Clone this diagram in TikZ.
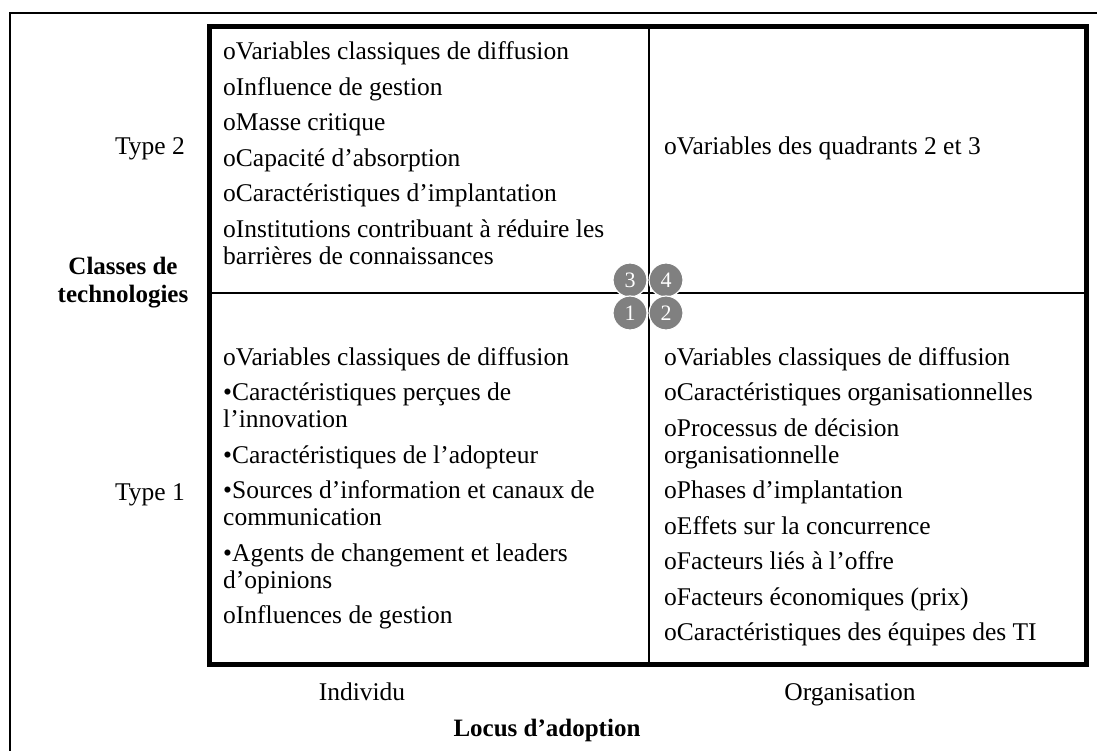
\documentclass[tikz,border=0pt]{standalone}
\usepackage{fontspec}
\setmainfont{Liberation Serif}
\definecolor{qgray}{HTML}{808080}
\begin{document}
\begin{tikzpicture}[x=1pt,y=-1pt,
  txt/.style={anchor=base west, inner sep=0pt, font=\fontsize{25.5}{29}\selectfont},
  rlab/.style={anchor=base east, inner sep=0pt, font=\fontsize{25.5}{29}\selectfont},
  clab/.style={anchor=base, inner sep=0pt, font=\fontsize{25.5}{29}\selectfont},
  blab/.style={anchor=base, inner sep=0pt, font=\fontsize{25}{29}\selectfont\bfseries},
  num/.style={circle, fill=qgray, draw=white, line width=1.2pt, minimum size=34pt, inner sep=0pt, text=white, font=\fontsize{22}{22}\selectfont}]
\useasboundingbox (0,0) rectangle (1097,751);
% outer frame (cropped at right and bottom)
\draw[line width=1.8pt] (10,760) -- (10,13) -- (1105,13);
% dividers
\draw[line width=2pt] (649,27) -- (649,664);
\draw[line width=2pt] (209,293) -- (1086,293);
% inner thick box
\draw[line width=5pt] (209,27) rectangle (1086,664);
% quadrant numbers
\node[num] (q3) at (630,280) {3};
\node[num] (q4) at (666,280) {4};
\node[num] (q1) at (630,313) {1};
\node[num] (q2) at (666,313) {2};
% axis labels
\node[rlab] (t2) at (185,155) {Type 2};
\node[rlab] (t1) at (185,500) {Type 1};
\node[blab] (cl1) at (123,275) {Classes de};
\node[blab] (cl2) at (123,302) {technologies};
\node[clab] (ind) at (362,700) {Individu};
\node[clab] (org) at (850,700) {Organisation};
\node[blab] (loc) at (547,736) {Locus d’adoption};
% quadrant 3 (top left)
\node[txt] (a1) at (223,60) {oVariables classiques de diffusion};
\node[txt] (a2) at (223,95.5) {oInfluence de gestion};
\node[txt] (a3) at (223,131) {oMasse critique};
\node[txt] (a4) at (223,166.5) {oCapacité d’absorption};
\node[txt] (a5) at (223,202) {oCaractéristiques d’implantation};
\node[txt] (a6) at (223,237.5) {oInstitutions contribuant à réduire les};
\node[txt] (a7) at (223,265) {barrières de connaissances};
% quadrant 4 (top right)
\node[txt] (b1) at (664,155) {oVariables des quadrants 2 et 3};
% quadrant 1 (bottom left)
\node[txt] (c1) at (223,365) {oVariables classiques de diffusion};
\node[txt] (c2) at (223,400.5) {•Caractéristiques perçues de};
\node[txt] (c3) at (223,427.5) {l’innovation};
\node[txt] (c4) at (223,463) {•Caractéristiques de l’adopteur};
\node[txt] (c5) at (223,498.5) {•Sources d’information et canaux de};
\node[txt] (c6) at (223,525.5) {communication};
\node[txt] (c7) at (223,561) {•Agents de changement et leaders};
\node[txt] (c8) at (223,588) {d’opinions};
\node[txt] (c9) at (223,623.5) {oInfluences de gestion};
% quadrant 2 (bottom right)
\node[txt] (d1) at (664,365) {oVariables classiques de diffusion};
\node[txt] (d2) at (664,400.5) {oCaractéristiques organisationnelles};
\node[txt] (d3) at (664,436) {oProcessus de décision};
\node[txt] (d4) at (664,463) {organisationnelle};
\node[txt] (d5) at (664,498.5) {oPhases d’implantation};
\node[txt] (d6) at (664,534) {oEffets sur la concurrence};
\node[txt] (d7) at (664,569.5) {oFacteurs liés à l’offre};
\node[txt] (d8) at (664,605) {oFacteurs économiques (prix)};
\node[txt] (d9) at (664,640.5) {oCaractéristiques des équipes des TI};
\end{tikzpicture}
\end{document}
